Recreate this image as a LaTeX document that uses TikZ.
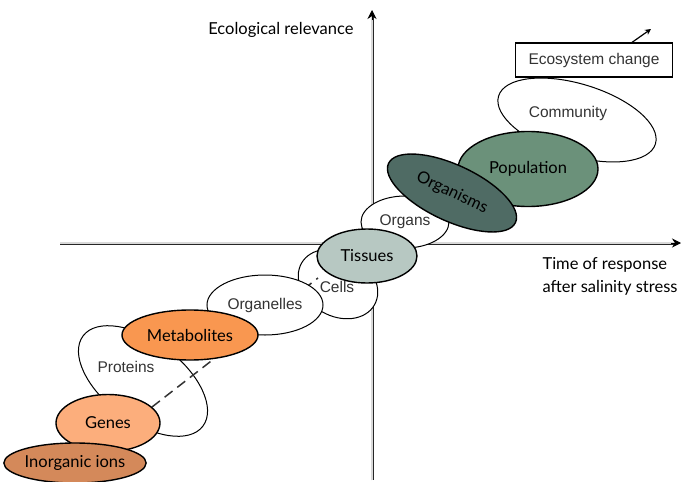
\documentclass[tikz,border=0pt]{standalone}
\usepackage{fontspec}
\setmainfont{Liberation Sans}
\newfontfamily\gillfont{Lato}
\usetikzlibrary{shapes.geometric, arrows.meta, positioning}

\definecolor{ionbrown}{HTML}{D4895A}
\definecolor{geneorange}{HTML}{FCAE7C}
\definecolor{metaorange}{HTML}{F99750}
\definecolor{tissuegrey}{HTML}{B7C8C2}
\definecolor{organismgreen}{HTML}{4F6B64}
\definecolor{popgreen}{HTML}{6B917A}

\begin{document}
\begin{tikzpicture}[
    x=1pt, y=-1pt,
    every node/.style={font=\fontsize{15.5}{18}\selectfont, text=black!80},
    blob/.style={draw, ellipse, line width=1pt, fill=white, inner sep=0pt},
    level/.style={blob, line width=1.4pt, text=black, font=\gillfont\fontsize{16.5}{19}\selectfont},
    gill/.style={text=black, font=\gillfont\fontsize{16.5}{23}\selectfont},
    axisline/.style={draw=black!85, double=white!85!black, double distance=1.4pt, line width=0.8pt},
    axistip/.style={line width=0.8pt, -{Stealth[length=9pt, width=9pt]}}
]
\useasboundingbox (0,0) rectangle (681,482);

% Axes
\coordinate (ybot) at (372,480);
\coordinate (ytop) at (372,10);
\coordinate (xleft) at (60,243);
\coordinate (xright) at (681,243);
\draw[axisline] (ybot) -- ([yshift=-6pt]ytop);
\draw[axistip] ([yshift=-10pt]ytop) -- (ytop);
\draw[axisline] (xleft) -- ([xshift=-6pt]xright);
\draw[axistip] ([xshift=-10pt]xright) -- (xright);

% Axis labels
\node[gill, anchor=east] (ylabel) at (357,30) {Ecological relevance};
\node[gill, anchor=north west, align=left] (xlabel) at (539,254) {Time of response\\after salinity stress};

% Upper levels
\node[blob, minimum width=164pt, minimum height=72pt, rotate=-17] (community) at (577,120) {};
\node (communitytext) at (568,113) {Community};
\node[level, fill=popgreen, minimum width=140pt, minimum height=75pt] (population) at (528,169) {Population};
\node[blob, minimum width=88pt, minimum height=52pt] (organs) at (405,222) {Organs};
\node[level, fill=organismgreen, minimum width=140pt, minimum height=56pt, rotate=-25] (organisms) at (452,193) {Organisms};

% Ecosystem box
\node[draw, rectangle, line width=1.2pt, minimum width=157pt, minimum height=34pt] (eco) at (594,60) {Ecosystem change};
\coordinate (beyond) at (651,29);
\draw[line width=1.2pt, -{Stealth[length=6pt, width=6pt]}] ([xshift=38pt]eco.north) -- (beyond);

% Lower levels
\node[blob, minimum width=84pt, minimum height=64pt, rotate=-30] (cells) at (338,284) {};
\node[blob, minimum width=150pt, minimum height=80pt, rotate=-37] (proteins) at (143,381) {};
\node (proteinstext) at (126,367) {Proteins};
\coordinate (dashstart) at (152,407);
\coordinate (dashend) at (318,278);
\draw[line width=1.5pt, black!80, dash pattern=on 10pt off 6pt] (dashstart) -- (dashend);
\node (cellstext) at (337,287) {Cells};
\node[blob, minimum width=116pt, minimum height=60pt] (organelles) at (265,305) {Organelles};
\node[level, fill=tissuegrey, minimum width=100pt, minimum height=54pt] (tissues) at (367,256) {Tissues};
\node[level, fill=metaorange, minimum width=136pt, minimum height=50pt] (metabolites) at (190,335) {Metabolites};
\node[level, fill=geneorange, minimum width=104pt, minimum height=57pt] (genes) at (108,423) {Genes};
\node[level, fill=ionbrown, minimum width=136pt, minimum height=40pt] (ions) at (75,463) {Inorganic ions};

\end{tikzpicture}
\end{document}
